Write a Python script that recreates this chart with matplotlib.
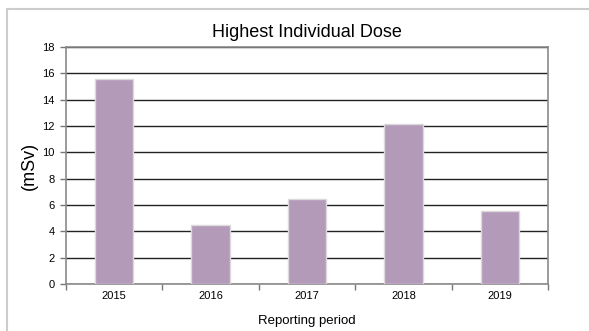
import matplotlib.pyplot as plt
from matplotlib.patches import Rectangle

plt.rcParams['font.family'] = ['Liberation Sans', 'DejaVu Sans']

# highest individual dose per reporting period (mSv)
years = ['2015', '2016', '2017', '2018', '2019']
dose = [15.6, 4.45, 6.45, 12.15, 5.55]

fig = plt.figure(figsize=(5.89, 3.31), dpi=100)
ax = fig.add_axes([66 / 589, 1 - 284 / 331, (548 - 66) / 589, (284 - 47) / 331])

# light frame around the chart (runs off the right and bottom edges)
fig.patches.append(Rectangle((6.5 / 589, -10 / 331), 600 / 589, (331 - 9 + 10) / 331,
                             transform=fig.transFigure, fill=False,
                             edgecolor='#cccccc', linewidth=1.5))

x = range(len(years))
ax.bar(x, dose, width=0.4, color='#b39ab9', edgecolor='#dcd8dc', linewidth=1, zorder=3)

ax.set_xlim(-0.5, len(years) - 0.5)
ax.set_ylim(0, 18)
ax.set_yticks(range(0, 19, 2))
ax.yaxis.grid(True, color='#222222', linewidth=1, zorder=0)
ax.set_axisbelow(True)

ax.set_xticks([i - 0.5 for i in range(len(years) + 1)])
ax.set_xticklabels([])
ax.set_xticks(list(x), minor=True)
ax.set_xticklabels(years, minor=True)
ax.tick_params(axis='x', which='minor', length=0, labelsize=8, pad=5)
ax.tick_params(axis='x', which='major', length=4, color='#777777', width=1)
ax.tick_params(axis='y', length=4, color='#777777', width=1, labelsize=8, pad=4)

for side in ['left', 'right', 'bottom', 'top']:
    ax.spines[side].set_color('#8a8a8a')
    ax.spines[side].set_linewidth(1.2)

ax.set_title('Highest Individual Dose', fontsize=13, pad=7)
ax.set_ylabel('(mSv)', fontsize=13, labelpad=3)
ax.set_xlabel('Reporting period', fontsize=9.5, labelpad=10)

fig.savefig('out.png', dpi=100)
